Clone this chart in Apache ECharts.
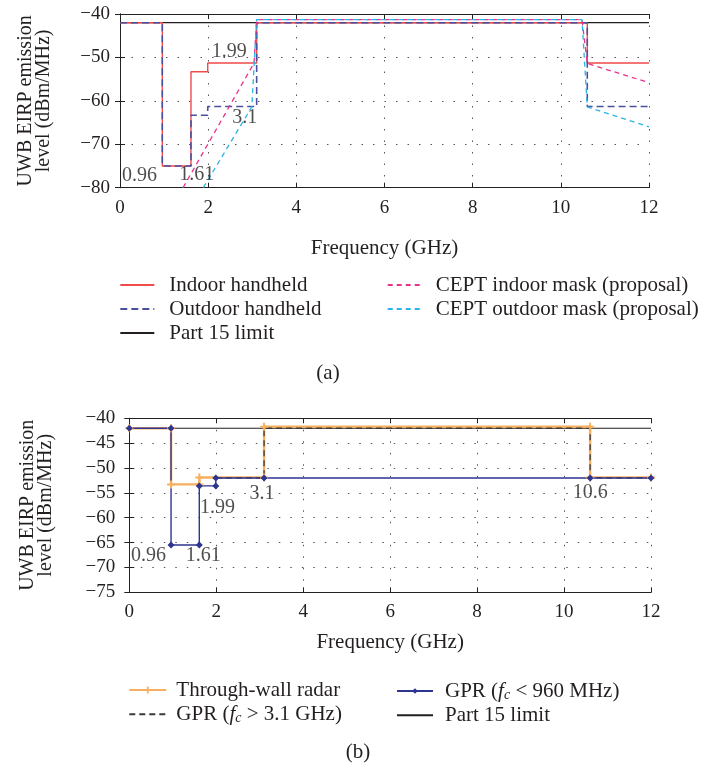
<!DOCTYPE html>
<html><head><meta charset="utf-8">
<script src="https://cdn.jsdelivr.net/npm/echarts@6/dist/echarts.min.js"></script>
<style>html,body{margin:0;padding:0;background:#fff}#c{width:704px;height:767px}</style>
</head><body><div id="c"></div>
<script>
// ---------- data: chart (a) ----------
const xTicks = [0, 2, 4, 6, 8, 10, 12];
const yTicksA = [-80, -70, -60, -50, -40];
const yTicksB = [-75, -70, -65, -60, -55, -50, -45, -40];

const part15AX = [0, 12];
const part15AY = [-42, -42];
const indoorX = [0, 0.96, 0.96, 1.61, 1.61, 1.99, 1.99, 3.1, 3.1, 10.6, 10.6, 12];
const indoorY = [-42, -42, -75, -75, -53.3, -53.3, -51.3, -51.3, -42, -42, -51.3, -51.3];
const outdoorX = [0, 0.96, 0.96, 1.61, 1.61, 1.99, 1.99, 3.1, 3.1, 10.6, 10.6, 12];
const outdoorY = [-42, -42, -75, -75, -63.3, -63.3, -61.3, -61.3, -42, -42, -61.3, -61.3];
const ceptInX = [1.43, 3.04, 3.1, 10.48, 10.6, 12];
const ceptInY = [-80, -51.3, -41.3, -41.3, -51.4, -55.8];
const ceptOutX = [1.89, 2.99, 3.1, 10.48, 10.6, 12];
const ceptOutY = [-80, -61.4, -41.3, -41.3, -61.4, -66];
const annAText = ['0.96', '1.61', '1.99', '3.1'];
const annAX = [0.44, 1.74, 2.48, 2.83];
const annAY = [-77.3, -77.1, -48.7, -63.8];

// ---------- data: chart (b) ----------
const part15BX = [0, 12];
const part15BY = [-42, -42];
const twrX = [0, 0.96, 0.96, 1.61, 1.61, 3.1, 3.1, 10.6, 10.6, 12];
const twrY = [-42, -42, -53.3, -53.3, -51.9, -51.9, -41.7, -41.7, -51.9, -51.9];
const gprLowX = [0, 0.96, 0.96, 1.61, 1.61, 1.99, 1.99, 3.1, 10.6, 12];
const gprLowY = [-42, -42, -65.5, -65.5, -53.6, -53.6, -52, -52, -52, -52];
const gprHighX = [1.99, 3.1, 3.1, 10.6, 10.6, 12];
const gprHighY = [-52, -52, -42, -42, -52, -52];
const annBText = ['0.96', '1.61', '1.99', '3.1', '10.6'];
const annBX = [0.44, 1.70, 2.03, 3.05, 10.6];
const annBY = [-67.7, -67.7, -58.0, -55.1, -55.0];

// ---------- helpers ----------
const FONT = '"Liberation Serif", "Times New Roman", serif';
const TXT = '#231f20';
const pairs = (xs, ys) => xs.map((x, i) => [x, ys[i]]);
const minus = v => String(v).replace('-', '\u2212');
const gridLine = { show: true, lineStyle: { color: '#555', width: 1, type: [1.5, 10] } };

function mainX(gi, gap, margin) {
  return { type: 'value', gridIndex: gi, min: xTicks[0], max: xTicks[xTicks.length - 1], interval: 2,
    name: 'Frequency (GHz)', nameLocation: 'middle', nameGap: gap,
    nameTextStyle: { fontFamily: FONT, fontSize: 21, color: TXT },
    axisLine: { lineStyle: { color: '#222', width: 1 } },
    axisTick: { inside: true, length: 5, lineStyle: { color: '#222' } },
    axisLabel: { fontFamily: FONT, fontSize: 19, color: TXT, margin: margin },
    splitLine: gridLine };
}
function topX(gi) {
  return { type: 'value', gridIndex: gi, position: 'top', min: xTicks[0], max: xTicks[xTicks.length - 1], interval: 2,
    axisLine: { show: true, lineStyle: { color: '#222', width: 1 } },
    axisTick: { inside: true, length: 5, lineStyle: { color: '#222' } },
    axisLabel: { show: false }, splitLine: { show: false } };
}
function mainY(gi, ticks, interval, gap, margin) {
  return { type: 'value', gridIndex: gi, min: ticks[0], max: ticks[ticks.length - 1], interval: interval,
    name: 'UWB EIRP emission\nlevel (dBm/MHz)', nameLocation: 'middle', nameGap: gap,
    nameTextStyle: { fontFamily: FONT, fontSize: 20, color: TXT, lineHeight: 18 },
    axisLine: { show: true, lineStyle: { color: '#222', width: 1 } },
    axisTick: { show: true, inside: true, length: 5, lineStyle: { color: '#222' } },
    axisLabel: { fontFamily: FONT, fontSize: 19, color: TXT, margin: margin, formatter: minus },
    splitLine: gridLine };
}
function rightY(gi, ticks, interval) {
  return { type: 'value', gridIndex: gi, position: 'right', min: ticks[0], max: ticks[ticks.length - 1], interval: interval,
    axisLine: { show: true, lineStyle: { color: '#222', width: 1 } },
    axisTick: { show: true, inside: true, length: 5, lineStyle: { color: '#222' } },
    axisLabel: { show: false }, splitLine: { show: false } };
}
function lineSeries(name, xs, ys, xi, color, width, type, extra) {
  return Object.assign({ type: 'line', name: name, xAxisIndex: xi, yAxisIndex: xi, data: pairs(xs, ys),
    showSymbol: false, symbol: 'none', silent: true,
    lineStyle: { color: color, width: width, type: type }, itemStyle: { color: color } }, extra || {});
}
function annSeries(texts, xs, ys, xi) {
  return { type: 'scatter', name: 'ann' + xi, xAxisIndex: xi, yAxisIndex: xi, silent: true, z: 5,
    symbolSize: 1, itemStyle: { color: 'rgba(0,0,0,0)' },
    data: texts.map((t, i) => [xs[i], ys[i], t]),
    label: { show: true, position: 'inside', formatter: p => p.data[2],
      fontFamily: FONT, fontSize: 20, color: TXT } };
}
// legend item: names with a marker keep it; plain lines hide the legend marker
const noMark = n => ({ name: n, itemStyle: { opacity: 0 } });
function legend(items, left, top, gap, pad, iw, ih) {
  return { data: items, orient: 'vertical', left: left, top: top, padding: 0, itemGap: gap,
    itemWidth: iw, itemHeight: ih, selectedMode: false,
    textStyle: { fontFamily: FONT, fontSize: 21, color: TXT, lineHeight: 21, padding: [0, 0, 0, pad],
      rich: { i: { fontFamily: FONT, fontSize: 21, fontStyle: 'italic', color: TXT, lineHeight: 21 },
              s: { fontFamily: FONT, fontSize: 14, fontStyle: 'italic', color: TXT, lineHeight: 21, padding: [9, 0, 0, 0] } } },
    formatter: n => n.replace('fc', '{i|f}{s|c}') };
}

const plus = 'path://M3,0H5V3H8V5H5V8H3V5H0V3H3Z';
const chart = echarts.init(document.getElementById('c'), null, { renderer: 'canvas' });
chart.setOption({
  animation: false,
  backgroundColor: '#fff',
  grid: [
    { left: 120, top: 14, width: 529, height: 173.7 },
    { left: 129.3, top: 418.3, width: 521.7, height: 174 }
  ],
  xAxis: [mainX(0, 50, 11), topX(0), mainX(1, 40, 10), topX(1)],
  yAxis: [mainY(0, yTicksA, 10, 67, 10), rightY(0, yTicksA, 10), mainY(1, yTicksB, 5, 75, 14), rightY(1, yTicksB, 5)],
  legend: [
    legend([noMark('Indoor handheld'), noMark('Outdoor handheld'), noMark('Part 15 limit')], 119.3, 274.5, 3, 10, 34, 14),
    legend([noMark('CEPT indoor mask (proposal)'), noMark('CEPT outdoor mask (proposal)')], 386.7, 274.5, 3, 8, 35, 14),
    legend(['Through-wall radar', noMark('GPR (fc > 3.1 GHz)')], 128.3, 679.5, 2.3, 5, 37, 9),
    legend(['GPR (fc < 960 MHz)', noMark('Part 15 limit ')], 396, 679.5, 2.3, 7, 36, 7)
  ],
  graphic: [
    { type: 'text', x: 328, y: 373, style: { text: '(a)', font: '21px ' + FONT, fill: TXT, align: 'center', verticalAlign: 'middle' } },
    { type: 'text', x: 358, y: 752, style: { text: '(b)', font: '21px ' + FONT, fill: TXT, align: 'center', verticalAlign: 'middle' } }
  ],
  series: [
    lineSeries('Part 15 limit', part15AX, part15AY, 0, '#231f20', 1.2, 'solid'),
    lineSeries('Indoor handheld', indoorX, indoorY, 0, '#f04a4a', 1.4, 'solid'),
    lineSeries('Outdoor handheld', outdoorX, outdoorY, 0, '#4a4f9e', 1.6, [7, 4]),
    lineSeries('CEPT indoor mask (proposal)', ceptInX, ceptInY, 0, '#e8338c', 1.3, [5, 4]),
    lineSeries('CEPT outdoor mask (proposal)', ceptOutX, ceptOutY, 0, '#27b4e6', 1.3, [5, 4]),
    annSeries(annAText, annAX, annAY, 0),

    lineSeries('Part 15 limit ', part15BX, part15BY, 2, '#231f20', 1.2, 'solid'),
    lineSeries('Through-wall radar', twrX, twrY, 2, '#f6b060', 2.4, 'solid',
      { showSymbol: true, symbol: plus, symbolSize: 8 }),
    lineSeries('GPR (fc > 3.1 GHz)', gprHighX, gprHighY, 2, '#3a3a3a', 1.3, [6, 4]),
    lineSeries('GPR (fc < 960 MHz)', gprLowX, gprLowY, 2, '#2e3590', 1.4, 'solid',
      { showSymbol: true, symbol: 'diamond', symbolSize: 7 }),
    annSeries(annBText, annBX, annBY, 2)
  ]
});
</script></body></html>
